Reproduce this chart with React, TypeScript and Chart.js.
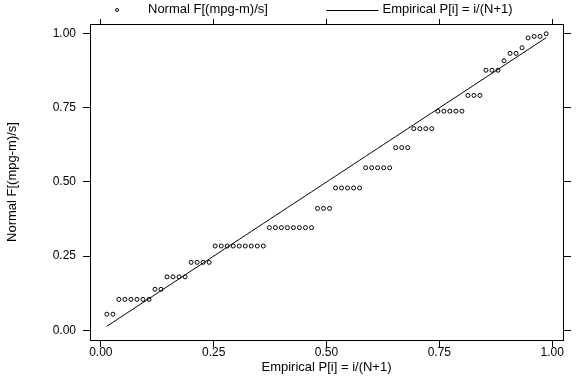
import React, { useEffect, useRef } from "react";
import { Chart, registerables } from "chart.js";

Chart.register(...registerables);

// Empirical P[i] = i/(N+1), N = 74
const empiricalP = [
  0.0133, 0.0267, 0.04, 0.0533, 0.0667, 0.08, 0.0933, 0.1067, 0.12, 0.1333,
  0.1467, 0.16, 0.1733, 0.1867, 0.2, 0.2133, 0.2267, 0.24, 0.2533, 0.2667,
  0.28, 0.2933, 0.3067, 0.32, 0.3333, 0.3467, 0.36, 0.3733, 0.3867, 0.4,
  0.4133, 0.4267, 0.44, 0.4533, 0.4667, 0.48, 0.4933, 0.5067, 0.52, 0.5333,
  0.5467, 0.56, 0.5733, 0.5867, 0.6, 0.6133, 0.6267, 0.64, 0.6533, 0.6667,
  0.68, 0.6933, 0.7067, 0.72, 0.7333, 0.7467, 0.76, 0.7733, 0.7867, 0.8,
  0.8133, 0.8267, 0.84, 0.8533, 0.8667, 0.88, 0.8933, 0.9067, 0.92, 0.9333,
  0.9467, 0.96, 0.9733, 0.9867,
];

// Normal F[(mpg-m)/s] read for each observation
const normalF = [
  0.054, 0.054,
  0.104, 0.104, 0.104, 0.104, 0.104, 0.104,
  0.138, 0.138,
  0.18, 0.18, 0.18, 0.18,
  0.229, 0.229, 0.229, 0.229,
  0.284, 0.284, 0.284, 0.284, 0.284, 0.284, 0.284, 0.284, 0.284,
  0.346, 0.346, 0.346, 0.346, 0.346, 0.346, 0.346, 0.346,
  0.411, 0.411, 0.411,
  0.48, 0.48, 0.48, 0.48, 0.48,
  0.548, 0.548, 0.548, 0.548, 0.548,
  0.616, 0.616, 0.616,
  0.68, 0.68, 0.68, 0.68,
  0.739, 0.739, 0.739, 0.739, 0.739,
  0.792, 0.792, 0.792,
  0.877, 0.877, 0.877,
  0.909,
  0.934, 0.934,
  0.953,
  0.986,
  0.991, 0.991,
  1.0,
];

const tickValues = [0, 0.25, 0.5, 0.75, 1];
const seriesNames = ["Normal F[(mpg-m)/s]", "Empirical P[i] = i/(N+1)"];
const xTitle = "Empirical P[i] = i/(N+1)";
const yTitle = "Normal F[(mpg-m)/s]";

const FONT = "'Liberation Sans', Arial, sans-serif";

export default function App() {
  const ref = useRef<HTMLCanvasElement | null>(null);

  useEffect(() => {
    if (!ref.current) return;
    Chart.defaults.font.family = FONT;
    Chart.defaults.font.size = 12;
    Chart.defaults.color = "#000";

    const setTicks = (scale: any) => {
      scale.ticks = tickValues.map((v) => ({ value: v }));
    };
    const fmt = (v: any) => Number(v).toFixed(2);

    const legendPlugin = {
      id: "stataLegend",
      afterDraw(chart: any) {
        const { ctx, chartArea } = chart;
        const y = chartArea.top - 15;
        const keyW = 52;
        const col1 = chartArea.left + 1;
        const col2 = (chartArea.left + chartArea.right) / 2;
        ctx.save();
        ctx.strokeStyle = "#000";
        ctx.fillStyle = "#000";
        ctx.lineWidth = 1;
        ctx.beginPath();
        ctx.arc(col1 + keyW / 2, y + 1, 1.5, 0, Math.PI * 2);
        ctx.stroke();
        ctx.beginPath();
        ctx.moveTo(col2, Math.round(y) + 1.5);
        ctx.lineTo(col2 + keyW, Math.round(y) + 1.5);
        ctx.stroke();
        ctx.font = `13px ${FONT}`;
        ctx.textBaseline = "middle";
        ctx.textAlign = "left";
        ctx.fillText(seriesNames[0], col1 + keyW + 5, y);
        ctx.fillText(seriesNames[1], col2 + keyW + 4, y);
        ctx.restore();
      },
    };

    const common = {
      type: "linear" as const,
      grid: {
        drawOnChartArea: false,
        drawTicks: true,
        tickLength: 7,
        tickColor: "#000",
        tickWidth: 1,
      },
      border: { display: true, color: "#000", width: 1 },
    };

    const chart = new Chart(ref.current, {
      type: "scatter",
      data: {
        datasets: [
          {
            label: seriesNames[0],
            data: empiricalP.map((x, i) => ({ x, y: normalF[i] })),
            pointStyle: "circle",
            pointRadius: 2,
            pointBorderWidth: 1,
            borderColor: "#000",
            backgroundColor: "rgba(0,0,0,0)",
            showLine: false,
            xAxisID: "x",
            yAxisID: "y",
          },
          {
            label: seriesNames[1],
            data: empiricalP.map((x) => ({ x, y: x })),
            showLine: true,
            pointRadius: 0,
            borderColor: "#000",
            borderWidth: 1,
            tension: 0,
            xAxisID: "x",
            yAxisID: "y",
          },
        ],
      },
      options: {
        animation: false,
        responsive: false,
        devicePixelRatio: 1,
        layout: { padding: 0 },
        plugins: {
          legend: { display: false },
          tooltip: { enabled: false },
        },
        scales: {
          x: {
            ...common,
            position: "bottom",
            min: -0.024,
            max: 1.024,
            afterBuildTicks: setTicks,
            afterFit: (s: any) => {
              s.height = 44;
            },
            ticks: { callback: fmt, padding: 0, maxRotation: 0, font: { size: 12, lineHeight: 1 } },
            title: {
              display: true,
              text: xTitle,
              font: { size: 13 },
              padding: { top: 0, bottom: 9 },
            },
          },
          x2: {
            ...common,
            position: "top",
            min: -0.024,
            max: 1.024,
            afterBuildTicks: setTicks,
            afterFit: (s: any) => {
              s.height = 24;
            },
            grid: { ...common.grid, tickLength: 5 },
            ticks: { display: false },
          },
          y: {
            ...common,
            position: "left",
            min: -0.033,
            max: 1.033,
            afterBuildTicks: setTicks,
            afterFit: (s: any) => {
              s.width = 90;
            },
            ticks: { callback: fmt, padding: 7 },
            title: {
              display: true,
              text: yTitle,
              font: { size: 13 },
              padding: { top: 5, bottom: 0 },
            },
          },
          y2: {
            ...common,
            position: "right",
            min: -0.033,
            max: 1.033,
            afterBuildTicks: setTicks,
            afterFit: (s: any) => {
              s.width = 13;
            },
            grid: { ...common.grid, tickLength: 8 },
            ticks: { display: false },
          },
        },
      },
      plugins: [legendPlugin],
    });

    return () => chart.destroy();
  }, []);

  return (
    <div style={{ position: "absolute", left: 0, top: 0, width: 576, height: 384, background: "#fff" }}>
      <canvas ref={ref} width={576} height={384} style={{ display: "block" }} />
    </div>
  );
}
